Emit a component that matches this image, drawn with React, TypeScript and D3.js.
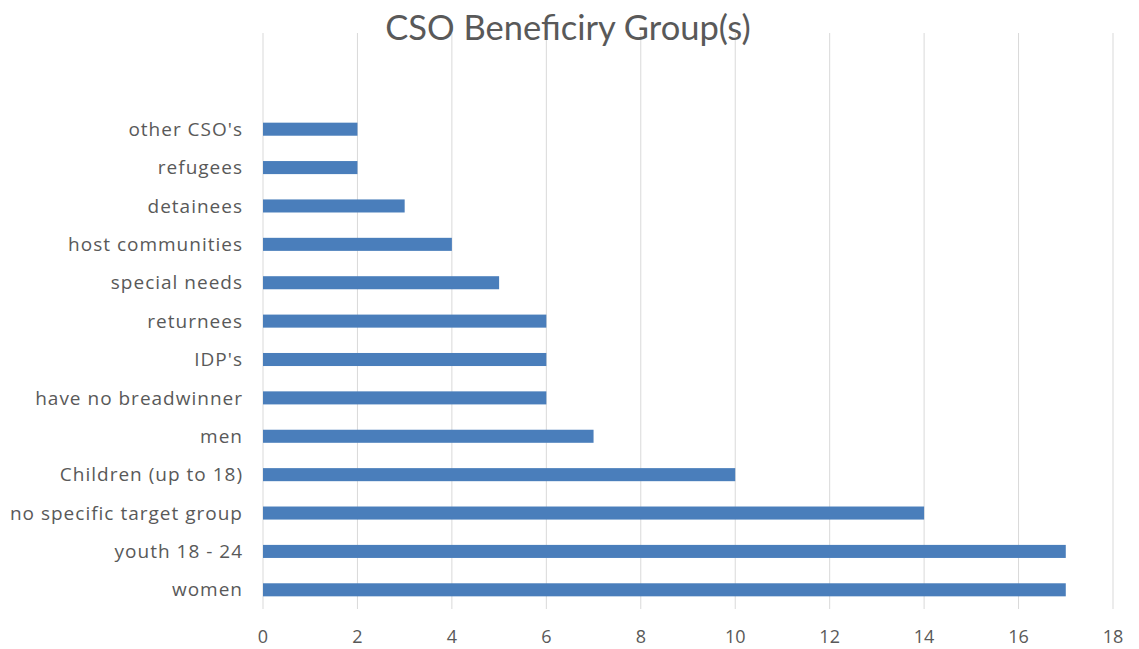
import React from "react";
import * as d3 from "d3";

const categories = [
  "other CSO's",
  "refugees",
  "detainees",
  "host communities",
  "special needs",
  "returnees",
  "IDP's",
  "have no breadwinner",
  "men",
  "Children (up to 18)",
  "no specific target group",
  "youth 18 - 24",
  "women",
];
const values = [2, 2, 3, 4, 5, 6, 6, 6, 7, 10, 14, 17, 17];
const xTicks = [0, 2, 4, 6, 8, 10, 12, 14, 16, 18];
const title = "CSO Beneficiry Group(s)";

const W = 1139;
const H = 649;

export default function App() {
  const x = d3.scaleLinear().domain([0, 18]).range([263, 1113]);
  const y = d3
    .scaleBand<string>()
    .domain(categories)
    .range([110, 609])
    .paddingInner(0.66)
    .paddingOuter(0.33);
  const font = "'Open Sans', Lato, sans-serif";
  return (
    <svg
      width={W}
      height={H}
      style={{ position: "absolute", left: 0, top: 0, background: "#fff" }}
    >
      {xTicks.map((t) => (
        <line
          key={t}
          x1={x(t)}
          x2={x(t)}
          y1={33}
          y2={609}
          stroke="#d9d9d9"
          strokeWidth={1}
        />
      ))}
      {categories.map((c, i) => (
        <rect
          key={c}
          x={x(0)}
          y={y(c)}
          width={x(values[i]) - x(0)}
          height={y.bandwidth()}
          fill="#4a7ebb"
        />
      ))}
      {categories.map((c) => (
        <text
          key={c}
          x={243}
          y={(y(c) as number) + y.bandwidth() / 2}
          dy="0.35em"
          textAnchor="end"
          fontFamily={font}
          fontSize={19}
          letterSpacing={1}
          fill="#595959"
        >
          {c}
        </text>
      ))}
      {xTicks.map((t) => (
        <text
          key={t}
          x={x(t)}
          y={637}
          dy="0.35em"
          textAnchor="middle"
          fontFamily={font}
          fontSize={18}
          fill="#595959"
        >
          {t}
        </text>
      ))}
      <text
        x={568}
        y={28}
        dy="0.35em"
        textAnchor="middle"
        fontFamily="Lato, sans-serif"
        fontSize={34.5}
        fill="#595959"
      >
        {title}
      </text>
    </svg>
  );
}
